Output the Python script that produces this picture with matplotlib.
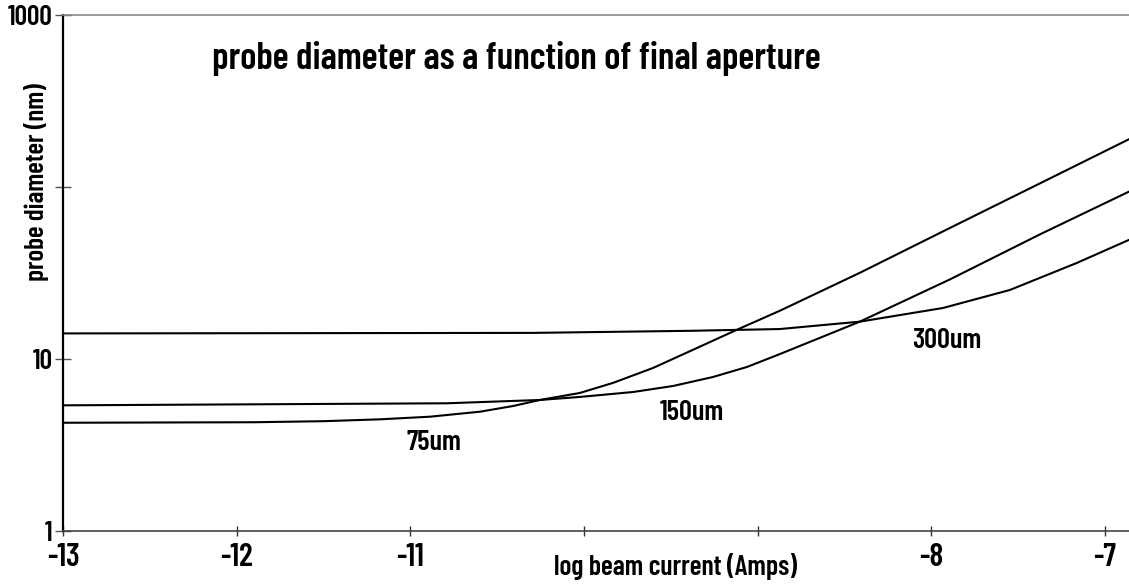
import numpy as np
import matplotlib.pyplot as plt

# log beam current (Amps) vs probe diameter (nm), one curve per final aperture
x_75 = [-13.0, -11.9, -11.5, -11.175, -10.887, -10.599, -10.409, -10.254, -10.024,
        -9.834, -9.603, -9.350, -9.120, -8.872, -8.412, -7.894, -7.375, -6.863]
d_75 = [4.27, 4.30, 4.36, 4.47, 4.63, 4.95, 5.34, 5.79, 6.36,
        7.27, 8.88, 11.6, 14.8, 19.1, 31.7, 57.7, 104.8, 189.0]

x_150 = [-13.0, -10.789, -10.254, -10.024, -9.718, -9.488, -9.258, -9.062,
         -8.872, -8.412, -7.894, -7.375, -6.863]
d_150 = [5.39, 5.54, 5.79, 6.03, 6.44, 6.98, 7.87, 9.0,
         10.7, 16.5, 29.0, 53.0, 93.8]

x_300 = [-13.0, -10.294, -9.39, -8.872, -8.412, -7.934, -7.548, -7.162, -6.863]
d_300 = [14.1, 14.2, 14.6, 14.95, 16.5, 19.8, 25.2, 36.2, 49.2]

curve_labels = ["75um", "150um", "300um"]
label_x = [-10.864, -9.379, -7.911]
label_y = [3.30, 4.93, 12.9]

xtick_vals = [-13, -12, -11, -10, -9, -8, -7]
xtick_text = ["-13", "-12", "-11", "", "", "-8", "-7"]
ytick_vals = [1, 10, 100, 1000]
ytick_text = ["1", "10", "", "1000"]

plt.rcParams['font.family'] = ['Barlow Condensed', 'Archivo Narrow', 'DejaVu Sans']
plt.rcParams['font.weight'] = 600
W = 600

fig = plt.figure(figsize=(11.29, 5.88), dpi=100)
ax = fig.add_axes([0.0558, 0.0964, 0.9442, 0.8786])

for xs, ds in [(x_75, d_75), (x_150, d_150), (x_300, d_300)]:
    ax.plot(xs, ds, color='black', linewidth=1.5, solid_joinstyle='round')

for txt, lx, ly in zip(curve_labels, label_x, label_y):
    ax.text(lx, ly, txt, ha='center', va='center', fontsize=20.5, fontweight=W)

ax.set_yscale('log')
ax.set_xlim(-13, -6.862)
ax.set_ylim(1, 1000)

ax.set_xticks(xtick_vals)
ax.set_xticklabels(xtick_text)
ax.set_yticks(ytick_vals)
ax.set_yticklabels(ytick_text)
ax.minorticks_off()

ax.tick_params(axis='x', direction='inout', length=7, width=1, color='#333333',
               labelsize=23, pad=5)
ax.tick_params(axis='y', direction='inout', length=11, width=1, color='#555555',
               labelsize=20, pad=2)
for lab in ax.get_xticklabels() + ax.get_yticklabels():
    lab.set_fontweight(W)

ax.spines['right'].set_visible(False)
ax.spines['top'].set_color('#888888')
ax.spines['top'].set_linewidth(1.2)
ax.spines['bottom'].set_color('#444444')
ax.spines['bottom'].set_linewidth(1.2)
ax.spines['left'].set_color('black')
ax.spines['left'].set_linewidth(1.6)

ax.set_xlabel('log beam current (Amps)', fontsize=20, fontweight=W, va='center')
ax.xaxis.set_label_coords(0.575, -0.069)
ax.set_ylabel('probe diameter (nm)', fontsize=19.5, fontweight=W, va='center')
ax.yaxis.set_label_coords(-0.0244, 0.676)

ax.text(0.425, 0.916, 'probe diameter as a function of final aperture',
        transform=ax.transAxes, ha='center', va='center', fontsize=27, fontweight=W)

fig.savefig('out.png', dpi=100)
